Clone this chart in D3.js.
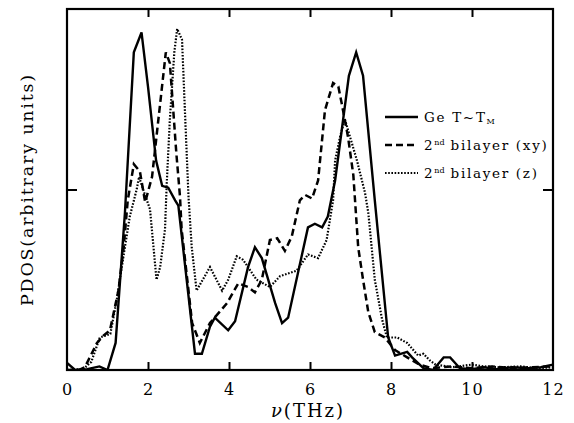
<!DOCTYPE html>
<html>
<head>
<meta charset="utf-8">
<script src="https://cdn.jsdelivr.net/npm/d3@7"></script>
<style>
  body { margin: 0; background: #fff; }
  text { font-family: "DejaVu Serif", serif; fill: #000; }
</style>
</head>
<body>
<div id="chart"></div>
<script>
// frequency (THz) / PDOS pairs
const geSolid = [
  [0, 0.04], [0.2, 0], [0.5, 0.005], [0.8, 0.02], [1.0, 0], [1.2, 0.15], [1.43, 0.87],
  [1.65, 1.76], [1.84, 1.87], [2.0, 1.57], [2.2, 1.16], [2.35, 1.02], [2.5, 1.01],
  [2.67, 0.94], [2.75, 0.91], [3.16, 0.09], [3.33, 0.09], [3.53, 0.24], [3.65, 0.29],
  [3.98, 0.22], [4.15, 0.27], [4.47, 0.57], [4.64, 0.68], [4.81, 0.62], [5.14, 0.37],
  [5.31, 0.26], [5.46, 0.29], [5.95, 0.79], [6.12, 0.81], [6.3, 0.79], [6.44, 0.85],
  [6.62, 1.05], [6.96, 1.63], [7.14, 1.76], [7.31, 1.63], [7.6, 0.94], [7.93, 0.18],
  [8.1, 0.08], [8.4, 0.10], [8.52, 0.07], [8.8, 0.01], [9.04, 0], [9.3, 0.07],
  [9.46, 0.07], [9.7, 0.01], [10.0, 0.005], [10.3, 0.015], [10.6, 0.005], [11.0, 0.015],
  [11.4, 0.01], [11.7, 0.015], [12, 0.03]
];
const bilayerXY = [
  [0, 0], [0.3, 0], [0.44, 0.015], [0.74, 0.15], [0.9, 0.19], [1.06, 0.22], [1.27, 0.44],
  [1.4, 0.68], [1.5, 0.94], [1.65, 1.14], [1.8, 1.10], [1.93, 0.93], [2.1, 1.07],
  [2.44, 1.76], [2.54, 1.70], [2.7, 1.20], [2.79, 0.96], [2.83, 0.78], [3.09, 0.26],
  [3.28, 0.15], [3.53, 0.26], [3.95, 0.37], [4.23, 0.48], [4.47, 0.46], [4.64, 0.43],
  [4.81, 0.50], [5.01, 0.72], [5.19, 0.73], [5.38, 0.66], [5.55, 0.74], [5.75, 0.94],
  [5.88, 0.97], [6.05, 0.95], [6.2, 1.05], [6.37, 1.44], [6.57, 1.59], [6.7, 1.57],
  [6.78, 1.48], [6.94, 1.29], [7.07, 1.08], [7.19, 0.68], [7.31, 0.50], [7.44, 0.32],
  [7.6, 0.21], [7.85, 0.18], [8.1, 0.11], [8.4, 0.07], [8.7, 0.03], [9.0, 0.01],
  [9.5, 0.02], [10, 0.01], [10.5, 0.02], [11, 0.01], [11.5, 0.015], [12, 0.02]
];
const bilayerZ = [
  [0, 0], [0.4, 0.005], [0.6, 0.045], [0.81, 0.18], [1.07, 0.20], [1.23, 0.39], [1.38, 0.61],
  [1.55, 0.85], [1.72, 1.0], [1.78, 1.07], [1.88, 1.0], [2.05, 0.89], [2.21, 0.50],
  [2.3, 0.57], [2.42, 0.78], [2.46, 1.02], [2.54, 1.39], [2.65, 1.76], [2.72, 1.89],
  [2.84, 1.83], [2.92, 1.39], [3.0, 0.96], [3.08, 0.68], [3.2, 0.44], [3.3, 0.48],
  [3.53, 0.57], [3.83, 0.44], [3.98, 0.50], [4.19, 0.63], [4.35, 0.61], [4.68, 0.50],
  [5.01, 0.46], [5.26, 0.52], [5.67, 0.55], [5.95, 0.64], [6.2, 0.62], [6.41, 0.72],
  [6.57, 0.94], [6.62, 1.16], [6.74, 1.29], [6.86, 1.39], [6.99, 1.29], [7.16, 1.16],
  [7.36, 0.98], [7.44, 0.87], [7.6, 0.50], [7.78, 0.28], [7.9, 0.18], [8.15, 0.18],
  [8.4, 0.15], [8.67, 0.08], [8.8, 0.09], [8.95, 0.055], [9.1, 0.03], [9.5, 0.015],
  [10, 0.03], [10.3, 0.02], [10.7, 0.015], [11.2, 0.02], [11.6, 0.01], [12, 0.015]
];
const xTicks = [0, 2, 4, 6, 8, 10, 12];
const yTicks = [1];

const width = 574, height = 423;
const margin = {top: 9, right: 21, bottom: 53, left: 67};

const svg = d3.select('#chart').append('svg')
  .attr('width', width).attr('height', height);

const x = d3.scaleLinear().domain([0, 12]).range([margin.left, width - margin.right]);
const y = d3.scaleLinear().domain([0, 2]).range([height - margin.bottom, margin.top]);

svg.append('clipPath').attr('id', 'clip')
  .append('rect')
  .attr('x', margin.left).attr('y', margin.top)
  .attr('width', x(12) - x(0)).attr('height', y(0) - y(2));

const line = d3.line().x(d => x(d[0])).y(d => y(d[1]));

const series = [
  {data: bilayerZ, dash: '1.6,1.6', w: 2.2},
  {data: bilayerXY, dash: '7,4', w: 2.5},
  {data: geSolid, dash: null, w: 2.4}
];
series.forEach(s => {
  svg.append('path')
    .attr('clip-path', 'url(#clip)')
    .attr('d', line(s.data))
    .attr('fill', 'none')
    .attr('stroke', '#000')
    .attr('stroke-width', s.w)
    .attr('stroke-dasharray', s.dash);
});

// inner ticks on all four sides
const inner = xTicks.slice(1, -1);
svg.append('g').attr('transform', `translate(0,${y(0)})`)
  .call(d3.axisBottom(x).tickValues(xTicks).tickSize(0).tickPadding(14).tickFormat(d3.format('d')))
  .call(g => g.select('.domain').remove())
  .call(g => g.selectAll('text').attr('font-size', 16).attr('letter-spacing', 1)
    .attr('font-family', '"DejaVu Serif", serif'));
svg.append('g').attr('transform', `translate(0,${y(0)})`)
  .call(d3.axisTop(x).tickValues(inner).tickSize(8).tickFormat(''))
  .call(g => g.select('.domain').remove())
  .call(g => g.selectAll('line').attr('stroke-width', 2));
svg.append('g').attr('transform', `translate(0,${y(2)})`)
  .call(d3.axisBottom(x).tickValues(inner).tickSize(8).tickFormat(''))
  .call(g => g.select('.domain').remove())
  .call(g => g.selectAll('line').attr('stroke-width', 2));
svg.append('g').attr('transform', `translate(${x(0)},0)`)
  .call(d3.axisRight(y).tickValues(yTicks).tickSize(10).tickFormat(''))
  .call(g => g.select('.domain').remove())
  .call(g => g.selectAll('line').attr('stroke-width', 2));
svg.append('g').attr('transform', `translate(${x(12)},0)`)
  .call(d3.axisLeft(y).tickValues(yTicks).tickSize(10).tickFormat(''))
  .call(g => g.select('.domain').remove())
  .call(g => g.selectAll('line').attr('stroke-width', 2));

svg.append('rect')
  .attr('x', x(0)).attr('y', y(2))
  .attr('width', x(12) - x(0)).attr('height', y(0) - y(2))
  .attr('fill', 'none').attr('stroke', '#000').attr('stroke-width', 2.2);

// axis titles
const xl = svg.append('text')
  .attr('x', 308).attr('y', 417)
  .attr('text-anchor', 'middle').attr('font-size', 18).attr('letter-spacing', 2);
xl.append('tspan').attr('font-style', 'italic').text('ν');
xl.append('tspan').text('(THz)');

svg.append('text')
  .attr('transform', `translate(33,${(y(0) + y(2)) / 2}) rotate(-90)`)
  .attr('text-anchor', 'middle').attr('font-size', 17.5).attr('letter-spacing', 1.8)
  .text('PDOS(arbitrary units)');

// legend
const legend = [
  {dash: null, w: 2.4, parts: [['Ge T~T', 0], ['M', -1]]},
  {dash: '7,4', w: 2.5, parts: [['2', 0], ['nd', 1], [' bilayer (xy)', 0]]},
  {dash: '1.6,1.6', w: 2.2, parts: [['2', 0], ['nd', 1], [' bilayer (z)', 0]]}
];
legend.forEach((l, i) => {
  const ly = 117 + i * 28;
  svg.append('line')
    .attr('x1', 385).attr('x2', 418).attr('y1', ly).attr('y2', ly)
    .attr('stroke', '#000').attr('stroke-width', l.w)
    .attr('stroke-dasharray', l.dash);
  const t = svg.append('text').attr('x', 424).attr('y', ly + 5)
    .attr('font-size', 13.5).attr('letter-spacing', 1.7)
    .attr('xml:space', 'preserve').style('white-space', 'pre');
  l.parts.forEach(p => {
    const ts = t.append('tspan').text(p[0]);
    if (p[1] === 1) ts.attr('font-size', 8).attr('letter-spacing', 0).attr('dy', -5);
    if (p[1] === -1) ts.attr('font-size', 8).attr('letter-spacing', 0).attr('dy', 2);
    if (p[1] === 0 && p[0].startsWith(' ')) ts.attr('dy', 5);
  });
});
</script>
</body>
</html>
